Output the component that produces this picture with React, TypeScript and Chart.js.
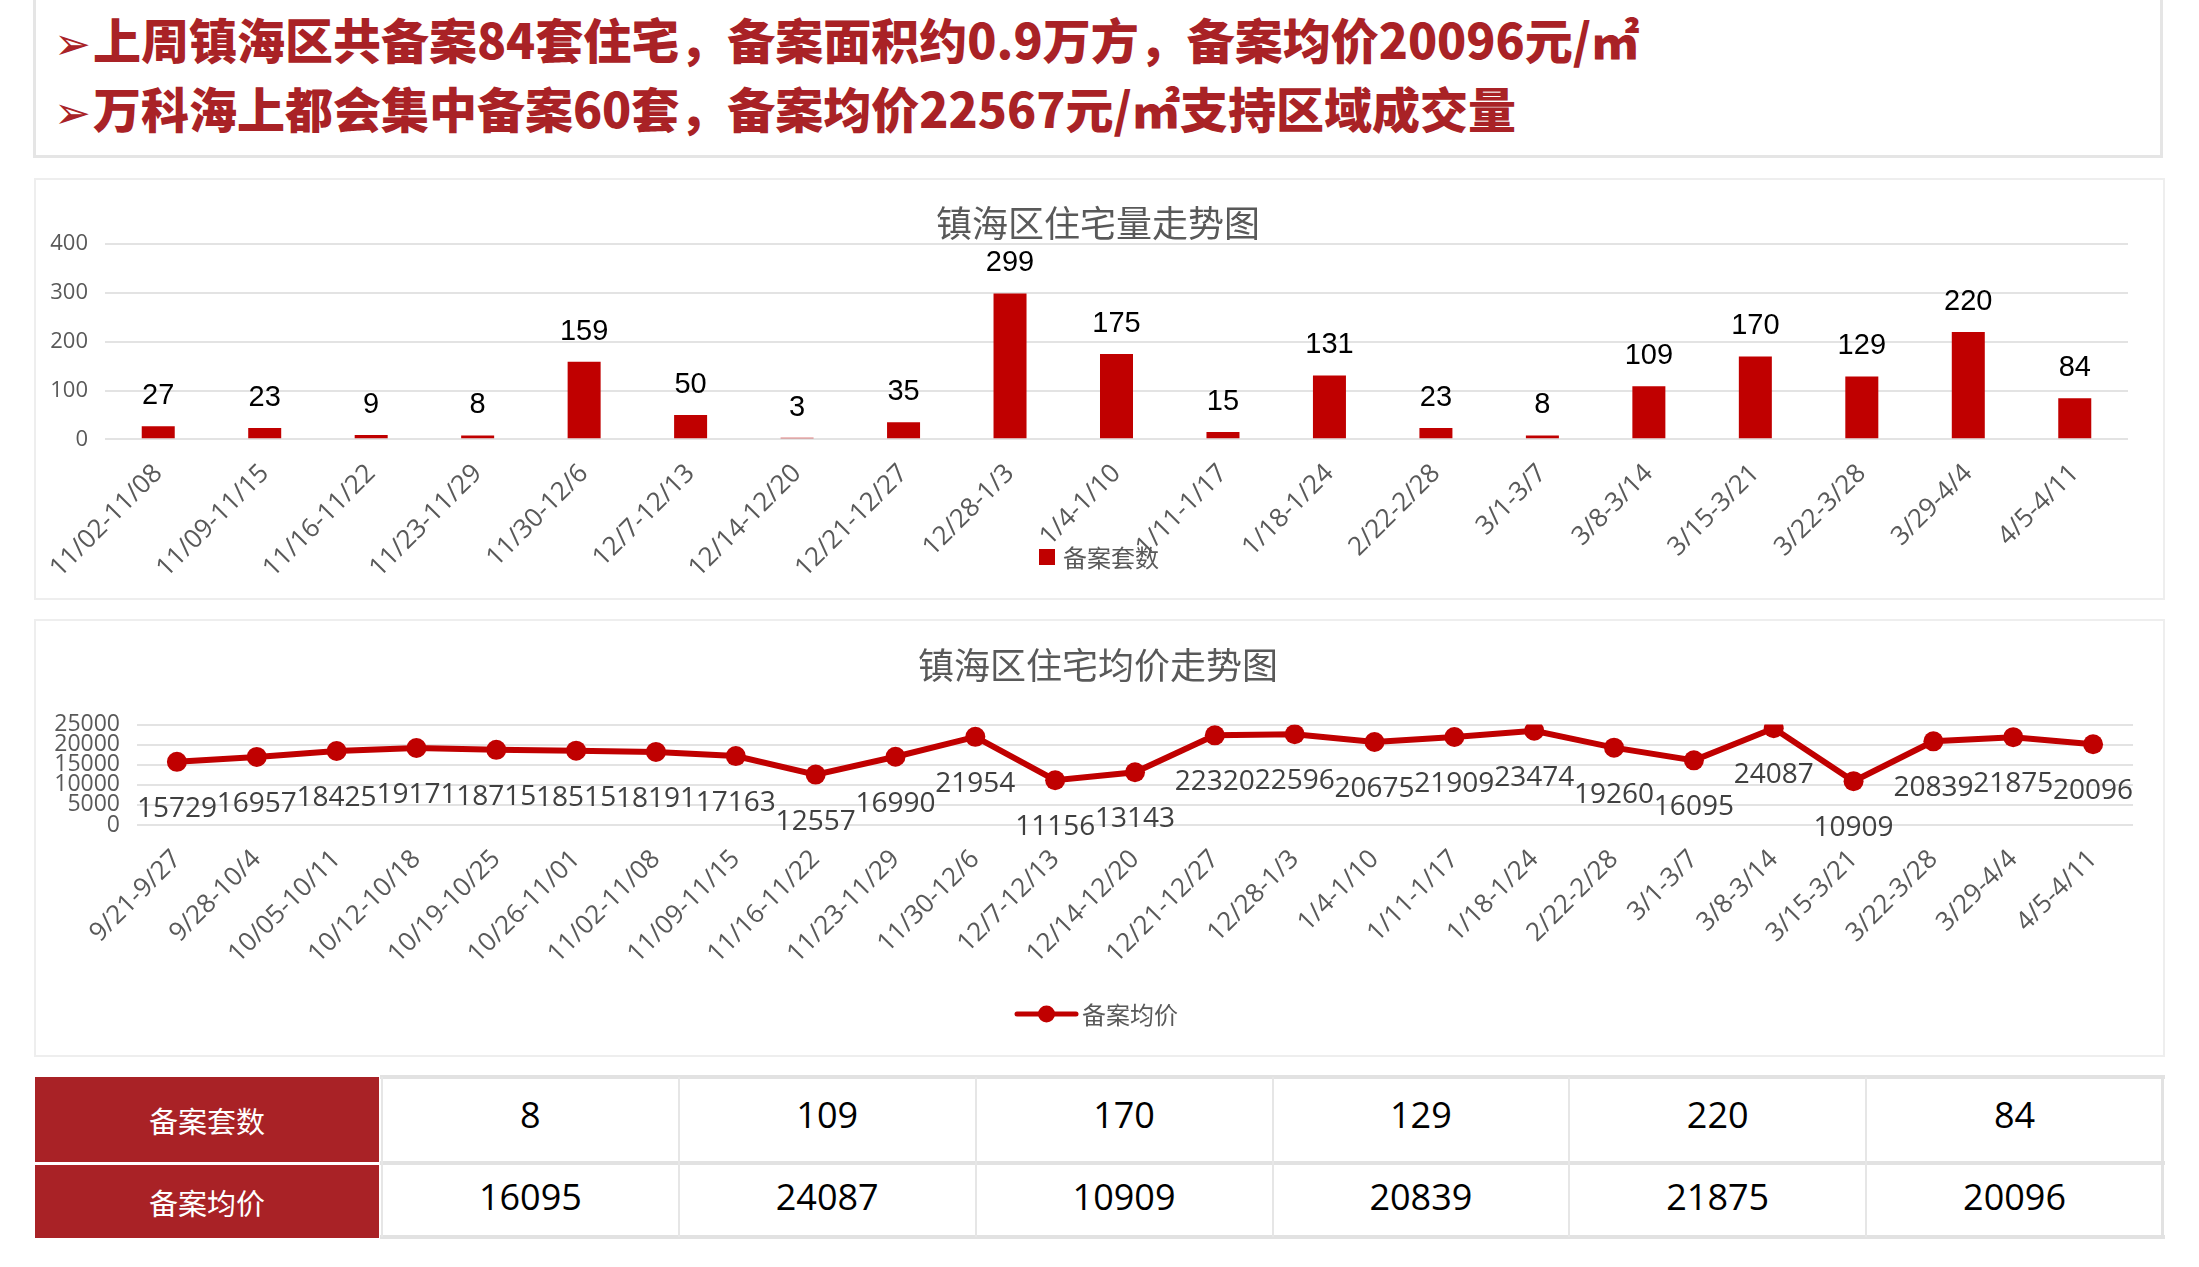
import React, { useEffect, useRef } from 'react';
import { Chart, registerables } from 'chart.js';

Chart.register(...registerables);

// ---------- data ----------
const headlineLine1 = '上周镇海区共备案84套住宅，备案面积约0.9万方，备案均价20096元/㎡';
const headlineLine2 = '万科海上都会集中备案60套，备案均价22567元/㎡支持区域成交量';

const volumeTitle = '镇海区住宅量走势图';
const volumeSeriesName = '备案套数';
const volumeCategories = [
  '11/02-11/08', '11/09-11/15', '11/16-11/22', '11/23-11/29', '11/30-12/6',
  '12/7-12/13', '12/14-12/20', '12/21-12/27', '12/28-1/3', '1/4-1/10',
  '1/11-1/17', '1/18-1/24', '2/22-2/28', '3/1-3/7', '3/8-3/14',
  '3/15-3/21', '3/22-3/28', '3/29-4/4', '4/5-4/11',
];
const volumeValues = [27, 23, 9, 8, 159, 50, 3, 35, 299, 175, 15, 131, 23, 8, 109, 170, 129, 220, 84];
const volumeTickMax = 400;
const volumeTickStep = 100;

const priceTitle = '镇海区住宅均价走势图';
const priceSeriesName = '备案均价';
const priceCategories = [
  '9/21-9/27', '9/28-10/4', '10/05-10/11', '10/12-10/18', '10/19-10/25',
  '10/26-11/01', '11/02-11/08', '11/09-11/15', '11/16-11/22', '11/23-11/29',
  '11/30-12/6', '12/7-12/13', '12/14-12/20', '12/21-12/27', '12/28-1/3',
  '1/4-1/10', '1/11-1/17', '1/18-1/24', '2/22-2/28', '3/1-3/7',
  '3/8-3/14', '3/15-3/21', '3/22-3/28', '3/29-4/4', '4/5-4/11',
];
const priceValues = [
  15729, 16957, 18425, 19171, 18715, 18515, 18191, 17163, 12557, 16990,
  21954, 11156, 13143, 22320, 22596, 20675, 21909, 23474, 19260, 16095,
  24087, 10909, 20839, 21875, 20096,
];
const priceTickMax = 25000;
const priceTickStep = 5000;

const tableRowNames = ['备案套数', '备案均价'];
const tableCounts = [8, 109, 170, 129, 220, 84];
const tablePrices = [16095, 24087, 10909, 20839, 21875, 20096];

// ---------- styles ----------
const RED = '#C00000';
const DARK_RED = '#A92226';
const GRAY_TEXT = '#595959';
const GRID = '#e3e3e3';
const CJK = '"Noto Sans CJK SC", "Noto Sans", sans-serif';
const NUM = '"Open Sans", "Noto Sans CJK SC", sans-serif';
const ARIAL = '"Liberation Sans", Arial, "Noto Sans CJK SC", sans-serif';

const W1 = 2127, H1 = 418;
const W2 = 2127, H2 = 434;

// draws the chart title centred on the box (not on the padded layout area)
function makeTitlePlugin(text: string, cx: number, cy: number) {
  return {
    id: 'boxTitle',
    afterDraw(chart: any) {
      const ctx = chart.ctx;
      ctx.save();
      ctx.font = '36px ' + CJK;
      ctx.fillStyle = GRAY_TEXT;
      ctx.textAlign = 'center';
      ctx.textBaseline = 'middle';
      ctx.fillText(text, cx, cy);
      ctx.restore();
    },
  };
}

function VolumeChart() {
  const ref = useRef<HTMLCanvasElement>(null);
  useEffect(() => {
    if (!ref.current) return;
    const barLabels = {
      id: 'barLabels',
      afterDatasetsDraw(chart: any) {
        const ctx = chart.ctx;
        const meta = chart.getDatasetMeta(0);
        ctx.save();
        ctx.font = '29px ' + ARIAL;
        ctx.fillStyle = '#000000';
        ctx.textAlign = 'center';
        ctx.textBaseline = 'alphabetic';
        meta.data.forEach((el: any, i: number) => {
          ctx.fillText(String(chart.data.datasets[0].data[i]), el.x, el.y - 22);
        });
        ctx.restore();
      },
    };
    const legendPlugin = {
      id: 'customLegend',
      afterDraw(chart: any) {
        const ctx = chart.ctx;
        ctx.save();
        ctx.fillStyle = RED;
        ctx.fillRect(1003, 369, 16, 16);
        ctx.font = '24px ' + CJK;
        ctx.fillStyle = GRAY_TEXT;
        ctx.textAlign = 'left';
        ctx.textBaseline = 'middle';
        ctx.fillText(chart.data.datasets[0].label, 1027, 378);
        ctx.restore();
      },
    };
    const chart = new Chart(ref.current, {
      type: 'bar',
      data: {
        labels: volumeCategories,
        datasets: [
          {
            label: volumeSeriesName,
            data: volumeValues,
            backgroundColor: RED,
            barPercentage: 0.31,
            categoryPercentage: 1,
          },
        ],
      },
      options: {
        responsive: false,
        animation: false,
        devicePixelRatio: 1,
        layout: { padding: { left: 0, right: 35, top: 64.2, bottom: 0 } },
        plugins: {
          legend: { display: false },
          tooltip: { enabled: false },
          title: { display: false },
        },
        scales: {
          x: {
            grid: { display: false },
            border: { display: false },
            ticks: {
              autoSkip: false,
              maxRotation: 45,
              minRotation: 45,
              padding: 11,
              color: GRAY_TEXT,
              font: { family: NUM, size: 26 },
            },
            afterFit: (s: any) => { s.height = 158.7; },
          },
          y: {
            min: 0,
            max: volumeTickMax,
            grid: { color: GRID, lineWidth: 2, drawTicks: false },
            border: { display: false },
            ticks: {
              stepSize: volumeTickStep,
              autoSkip: false,
              padding: 17,
              color: GRAY_TEXT,
              font: { family: NUM, size: 22 },
              callback: (v: any) => String(v),
            },
            afterFit: (s: any) => { s.width = 69; },
          },
        },
      },
      plugins: [barLabels, legendPlugin, makeTitlePlugin(volumeTitle, 1062, 43)],
    } as any);
    return () => chart.destroy();
  }, []);
  return (
    <canvas
      ref={ref}
      width={W1}
      height={H1}
      style={{ position: 'absolute', left: 36, top: 180, width: W1, height: H1 }}
    />
  );
}

function PriceChart() {
  const ref = useRef<HTMLCanvasElement>(null);
  useEffect(() => {
    if (!ref.current) return;
    const pointLabels = {
      id: 'pointLabels',
      afterDatasetsDraw(chart: any) {
        const ctx = chart.ctx;
        const meta = chart.getDatasetMeta(0);
        ctx.save();
        ctx.font = '28px ' + NUM;
        ctx.fillStyle = '#404040';
        ctx.textAlign = 'center';
        ctx.textBaseline = 'alphabetic';
        meta.data.forEach((el: any, i: number) => {
          ctx.fillText(String(chart.data.datasets[0].data[i]), el.x, el.y + 55);
        });
        ctx.restore();
      },
    };
    const legendPlugin = {
      id: 'customLegend',
      afterDraw(chart: any) {
        const ctx = chart.ctx;
        ctx.save();
        ctx.strokeStyle = RED;
        ctx.lineWidth = 5;
        ctx.lineCap = 'round';
        ctx.beginPath();
        ctx.moveTo(981, 393);
        ctx.lineTo(1040, 393);
        ctx.stroke();
        ctx.fillStyle = RED;
        ctx.beginPath();
        ctx.arc(1010.5, 393, 8.5, 0, Math.PI * 2);
        ctx.fill();
        ctx.font = '24px ' + CJK;
        ctx.fillStyle = GRAY_TEXT;
        ctx.textAlign = 'left';
        ctx.textBaseline = 'middle';
        ctx.fillText(chart.data.datasets[0].label, 1046, 394);
        ctx.restore();
      },
    };
    const chart = new Chart(ref.current, {
      type: 'line',
      data: {
        labels: priceCategories,
        datasets: [
          {
            label: priceSeriesName,
            data: priceValues,
            borderColor: RED,
            borderWidth: 6,
            backgroundColor: RED,
            pointBackgroundColor: RED,
            pointBorderWidth: 0,
            pointRadius: 10,
            tension: 0,
            fill: false,
          },
        ],
      },
      options: {
        responsive: false,
        animation: false,
        devicePixelRatio: 1,
        layout: { padding: { left: 0, right: 30, top: 103.6, bottom: 0 } },
        plugins: {
          legend: { display: false },
          tooltip: { enabled: false },
          title: { display: false },
        },
        scales: {
          x: {
            offset: true,
            grid: { display: false },
            border: { display: false },
            ticks: {
              autoSkip: false,
              maxRotation: 45,
              minRotation: 45,
              padding: 11,
              color: GRAY_TEXT,
              font: { family: NUM, size: 26 },
            },
            afterFit: (s: any) => { s.height = 230; },
          },
          y: {
            min: 0,
            max: priceTickMax,
            grid: { color: GRID, lineWidth: 2, drawTicks: false },
            border: { display: false },
            ticks: {
              stepSize: priceTickStep,
              autoSkip: false,
              padding: 17,
              color: GRAY_TEXT,
              font: { family: NUM, size: 23 },
              callback: (v: any) => String(v),
            },
            afterFit: (s: any) => { s.width = 101; },
          },
        },
      },
      plugins: [pointLabels, legendPlugin, makeTitlePlugin(priceTitle, 1062, 44)],
    } as any);
    return () => chart.destroy();
  }, []);
  return (
    <canvas
      ref={ref}
      width={W2}
      height={H2}
      style={{ position: 'absolute', left: 36, top: 621, width: W2, height: H2 }}
    />
  );
}

function Headline({ text, top }: { text: string; top: number }) {
  return (
    <div
      style={{
        position: 'absolute',
        left: 54,
        top,
        height: 70,
        lineHeight: '70px',
        whiteSpace: 'nowrap',
        color: DARK_RED,
        fontFamily: CJK,
        fontWeight: 900,
        fontSize: 48,
      }}
    >
      <span style={{ fontFamily: '"DejaVu Sans", sans-serif', fontSize: 44, fontWeight: 400, marginRight: 2 }}>➢</span>
      {text}
    </div>
  );
}

function DataTable() {
  const colW = (2163 - 382) / tableCounts.length;
  const rows = [
    { name: tableRowNames[0], values: tableCounts, top: 1077, height: 85 },
    { name: tableRowNames[1], values: tablePrices, top: 1165, height: 73 },
  ];
  return (
    <div>
      <div style={{ position: 'absolute', left: 380, top: 1075, width: 1785, height: 4, background: '#e2e2e2' }} />
      <div style={{ position: 'absolute', left: 380, top: 1161, width: 1785, height: 4, background: '#e2e2e2' }} />
      <div style={{ position: 'absolute', left: 380, top: 1235, width: 1785, height: 4, background: '#e2e2e2' }} />
      <div style={{ position: 'absolute', left: 2161, top: 1075, width: 3, height: 164, background: '#e2e2e2' }} />
      {tableCounts.map((_, i) => (
        <div
          key={'v' + i}
          style={{ position: 'absolute', left: 381 + i * colW, top: 1077, width: 2, height: 160, background: '#e6e6e6' }}
        />
      ))}
      {rows.map((r, ri) => (
        <React.Fragment key={ri}>
          <div
            style={{
              position: 'absolute',
              left: 35,
              top: r.top,
              width: 344,
              height: r.height,
              background: DARK_RED,
              color: '#ffffff',
              fontFamily: CJK,
              fontSize: 29,
              display: 'flex',
              alignItems: 'center',
              justifyContent: 'center',
            }}
          >
            {r.name}
          </div>
          {r.values.map((v, i) => (
            <div
              key={i}
              style={{
                position: 'absolute',
                left: 382 + i * colW,
                top: r.top - 5,
                width: colW,
                height: r.height,
                color: '#000000',
                fontFamily: NUM,
                fontSize: 36,
                display: 'flex',
                alignItems: 'center',
                justifyContent: 'center',
              }}
            >
              {v}
            </div>
          ))}
        </React.Fragment>
      ))}
    </div>
  );
}

export default function App() {
  return (
    <div
      style={{
        position: 'absolute',
        left: 0,
        top: 0,
        width: 2199,
        height: 1267,
        overflow: 'hidden',
        background: '#ffffff',
        fontFamily: CJK,
      }}
    >
      <div
        style={{
          position: 'absolute',
          left: 33,
          top: -10,
          width: 2124,
          height: 162,
          border: '3px solid #e5e5e5',
          boxSizing: 'content-box',
        }}
      />
      <Headline text={headlineLine1} top={3} />
      <Headline text={headlineLine2} top={72} />

      <div style={{ position: 'absolute', left: 34, top: 178, width: 2127, height: 418, border: '2px solid #eeeeee' }} />
      <div style={{ position: 'absolute', left: 34, top: 619, width: 2127, height: 434, border: '2px solid #eeeeee' }} />

      <VolumeChart />
      <PriceChart />
      <DataTable />
    </div>
  );
}
